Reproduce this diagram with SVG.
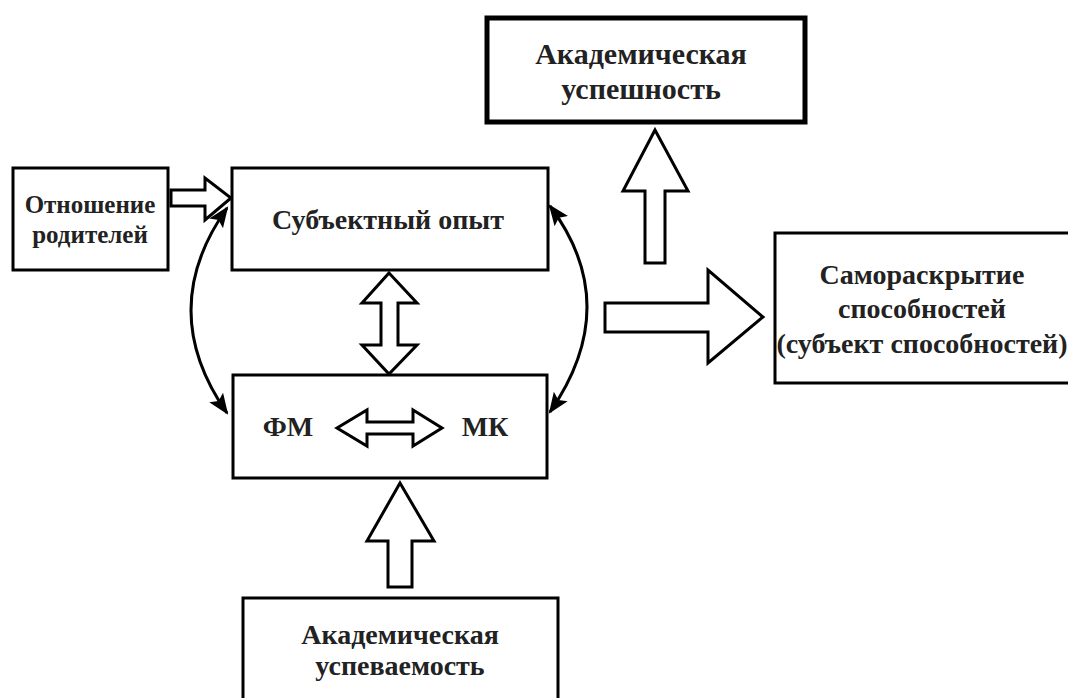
<svg xmlns="http://www.w3.org/2000/svg" width="1068" height="698" viewBox="0 0 1068 698">
<defs>
<style>
.box{fill:#fff;stroke:#000;stroke-width:3}
.thick{fill:#fff;stroke:#000;stroke-width:5}
.barrow{fill:#fff;stroke:#000;stroke-width:3;stroke-linejoin:miter}
.curve{fill:none;stroke:#000;stroke-width:3}
text{font-family:"Liberation Serif","Times New Roman",serif;font-weight:bold;font-size:28px;fill:#222;text-anchor:middle}
text.sm{font-size:25px}
text.lg{font-size:30px}
</style>
<marker id="ah" viewBox="0 0 10 10" refX="9" refY="5" markerWidth="7" markerHeight="7" markerUnits="strokeWidth" orient="auto-start-reverse">
<path d="M0,1 L10,5 L0,9 L2,5 Z" fill="#000"/>
</marker>
</defs>
<rect width="1068" height="698" fill="#fff"/>
<g id="parents">
<rect class="box" x="13" y="168" width="155" height="102"/>
<text class="sm" x="90" y="213">Отношение</text>
<text class="sm" x="90" y="243">родителей</text>
</g>
<g id="experience">
<rect class="box" x="232" y="168" width="316" height="102"/>
<text x="388" y="229">Субъектный опыт</text>
</g>
<g id="fm-mk">
<rect class="box" x="233" y="375" width="314" height="103"/>
<text x="288" y="436">ФМ</text>
<text x="485" y="436">МК</text>
</g>
<g id="performance">
<rect class="box" x="243" y="598" width="315" height="110"/>
<text x="400" y="644">Академическая</text>
<text x="400" y="675">успеваемость</text>
</g>
<g id="success">
<rect class="thick" x="487" y="18" width="318" height="104"/>
<text class="lg" x="641" y="64">Академическая</text>
<text class="lg" x="641" y="99">успешность</text>
</g>
<g id="disclosure">
<rect class="box" x="775" y="233" width="310" height="150"/>
<text x="922" y="284">Самораскрытие</text>
<text x="922" y="318">способностей</text>
<text x="922" y="353">(субъект способностей)</text>
</g>
<g id="connectors">
<path class="barrow" d="M171,190 L205,190 L205,178 L231,198 L205,220 L205,206 L171,206 Z"/>
<path class="barrow" d="M389,273 L417,303 L398,303 L398,345 L417,345 L389,374 L362,345 L381,345 L381,303 L362,303 Z"/>
<path class="barrow" d="M337,428 L367,410 L367,422 L413,422 L413,410 L442,428 L413,446 L413,434 L367,434 L367,446 Z"/>
<path class="barrow" d="M400,483 L434,541 L412,541 L412,587 L388,587 L388,541 L367,541 Z"/>
<path class="barrow" d="M655,130 L688,191 L665,191 L665,263 L645,263 L645,191 L623,191 Z"/>
<path class="barrow" d="M605,303 L708,303 L708,270 L763,317 L708,363 L708,332 L605,332 Z"/>
<path class="curve" d="M227,208 Q155,310 227,413" marker-start="url(#ah)" marker-end="url(#ah)"/>
<path class="curve" d="M550,206 Q624,305 550,412" marker-start="url(#ah)" marker-end="url(#ah)"/>
</g>
</svg>
